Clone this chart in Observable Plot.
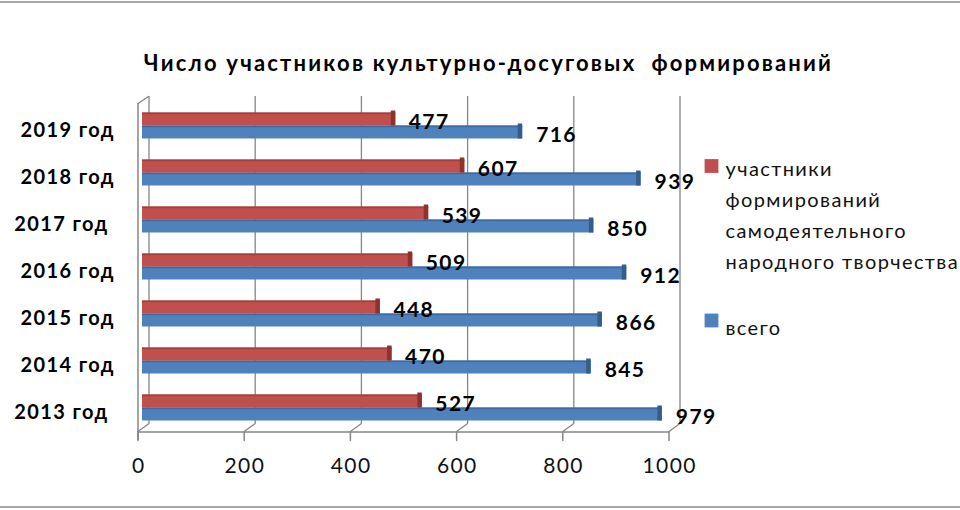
<!DOCTYPE html>
<html>
<head>
<meta charset="utf-8">
<script src="https://cdn.jsdelivr.net/npm/d3@7"></script>
<script src="https://cdn.jsdelivr.net/npm/@observablehq/plot@0.6"></script>
<style>
  html, body { margin: 0; padding: 0; background: #fff; }
  #chart { position: relative; width: 960px; height: 510px; overflow: hidden; }
  #chart::before, #chart::after { content: ""; position: absolute; left: 0; right: 0; height: 2px; background: #a6a6a6; z-index: 2; }
  #chart::before { top: 1px; }
  #chart::after { top: 506px; }
  #chart svg text { letter-spacing: 1.4px; }
  #chart svg g[font-size="22"] text { letter-spacing: 2.2px; }
</style>
</head>
<body>
<div id="chart"></div>
<script>
const titleText = "Число участников культурно-досуговых  формирований";
const years = ["2019 год", "2018 год", "2017 год", "2016 год", "2015 год", "2014 год", "2013 год"];
const yearLabels = ["2019 год", "2018 год", "2017 год\u00a0", "2016 год", "2015 год", "2014 год", "2013 год\u00a0"];
const participants = [477, 607, 539, 509, 448, 470, 527];
const total = [716, 939, 850, 912, 866, 845, 979];
const ticks = [0, 200, 400, 600, 800, 1000];
const seriesNames = ["участники\nформирований\nсамодеятельного\nнародного творчества", "всего"];

const rows = years.map((y, i) => ({year: y, label: yearLabels[i], p: participants[i], t: total[i]}));

const grid = "#868686";
const red = "#c0504d", redTop = "#a3403d", redEnd = "#8c3330";
const blue = "#4f81bd", blueTop = "#3d69a0", blueEnd = "#345d8c";
const lineShape = {draw(ctx, l) { ctx.moveTo(0, 0); ctx.lineTo(0, -l); }};

const chart = Plot.plot({
  width: 960,
  height: 510,
  marginLeft: 142,
  marginRight: 287,
  marginTop: 101.5,
  marginBottom: 79.5,
  style: {fontFamily: "Lato, 'Open Sans', sans-serif", background: "transparent", color: "#000"},
  x: {domain: [0, 1000], axis: null},
  y: {domain: years, padding: 0, axis: null},
  marks: [
    // back-wall gridlines
    Plot.ruleX(ticks, {x: d => d, dx: 6.5, insetTop: -5.5, insetBottom: 7.5, stroke: grid, strokeWidth: 1.3}),
    // floor diagonals
    Plot.vector(ticks, {x: d => d, frameAnchor: "bottom", dx: 6.5, dy: -7.5, length: 13.6, rotate: 234, anchor: "start", shape: lineShape, stroke: grid, strokeWidth: 1.3}),
    // floor front edge
    Plot.frame({anchor: "bottom", dx: -4.5, dy: 1, stroke: grid, strokeWidth: 1.5}),
    // left wall front edge
    Plot.ruleX([0], {x: d => d, dx: -4.5, insetTop: 1.5, insetBottom: -9.5, stroke: grid, strokeWidth: 1.5}),
    Plot.vector([0], {x: d => d, frameAnchor: "top", dx: -4.5, dy: 1.5, length: 12.6, rotate: 56, anchor: "start", shape: lineShape, stroke: grid, strokeWidth: 1.3}),
    // front ticks
    Plot.vector(ticks, {x: d => d, frameAnchor: "bottom", dx: -4.5, dy: 1, length: 8.5, rotate: 180, anchor: "start", shape: lineShape, stroke: grid, strokeWidth: 1.5}),
    Plot.text(ticks, {x: d => d, text: d => String(d), frameAnchor: "bottom", dx: -3.8, dy: 42, fontSize: 21, fill: "#111"}),
    // blue bars (всего)
    Plot.barX(rows, {x: "t", y: "year", fill: blue, insetTop: 23.5, insetBottom: 10.5}),
    Plot.barX(rows, {x: "t", y: "year", fill: blueTop, insetTop: 23.5, insetBottom: 21.8}),
    Plot.barX(rows, {x1: "t", x2: "t", y: "year", fill: blueEnd, insetLeft: -4.5, insetTop: 21.5, insetBottom: 10.5}),
    // red bars (участники)
    Plot.barX(rows, {x: "p", y: "year", fill: red, insetTop: 10.5, insetBottom: 23.5}),
    Plot.barX(rows, {x: "p", y: "year", fill: redTop, insetTop: 10.5, insetBottom: 34.8}),
    Plot.barX(rows, {x1: "p", x2: "p", y: "year", fill: redEnd, insetLeft: -4.5, insetTop: 8.5, insetBottom: 23.5}),
    // value labels
    Plot.text(rows, {x: "p", y: "year", text: d => String(d.p), dx: 13, dy: -4, textAnchor: "start", fontWeight: "bold", fontSize: 21, fill: "#000"}),
    Plot.text(rows, {x: "t", y: "year", text: d => String(d.t), dx: 13.5, dy: 9, textAnchor: "start", fontWeight: "bold", fontSize: 21, fill: "#000"}),
    // category labels
    Plot.text(rows, {y: "year", text: "label", frameAnchor: "left", dx: -27.6, dy: 5, textAnchor: "end", fontWeight: "bold", fontSize: 20, fill: "#000"}),
    // title
    Plot.text([titleText], {text: d => d, frameAnchor: "top", dx: 80.5, dy: -46.5, fontWeight: "bold", fontSize: 22, fill: "#000"}),
    // legend
    Plot.dot([red], {frameAnchor: "top-right", dx: 38, dy: 64, symbol: "square", r: 7.8, fill: d => d}),
    Plot.dot([blue], {frameAnchor: "top-right", dx: 38, dy: 218.5, symbol: "square", r: 7.8, fill: d => d}),
    Plot.text([seriesNames[0]], {text: d => d, frameAnchor: "top-right", dx: 52, dy: 110.5, textAnchor: "start", lineAnchor: "middle", lineHeight: 1.55, fontSize: 20, fill: "#111"}),
    Plot.text([seriesNames[1]], {text: d => d, frameAnchor: "top-right", dx: 52, dy: 219, textAnchor: "start", fontSize: 20, fill: "#111"})
  ]
});
document.getElementById("chart").appendChild(chart);
</script>
</body>
</html>
